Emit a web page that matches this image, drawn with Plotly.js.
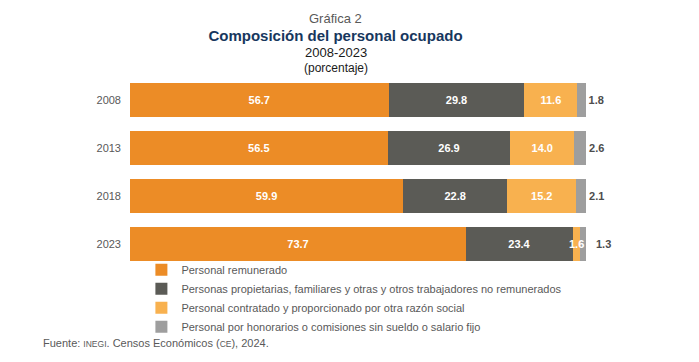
<!DOCTYPE html>
<html>
<head>
<meta charset="utf-8">
<script src="https://cdn.plot.ly/plotly-3.0.1.min.js"></script>
<style>html,body{margin:0;padding:0;background:#fff;}#chart{width:699px;height:362px;}</style>
</head>
<body>
<div id="chart"></div>
<script>
const years = ['2008', '2013', '2018', '2023'];
const seriesNames = [
  'Personal remunerado',
  'Personas propietarias, familiares y otras y otros trabajadores no remunerados',
  'Personal contratado y proporcionado por otra razón social',
  'Personal por honorarios o comisiones sin sueldo o salario fijo'
];
const remunerado = [56.7, 56.5, 59.9, 73.7];
const noRemunerado = [29.8, 26.9, 22.8, 23.4];
const contratado = [11.6, 14.0, 15.2, 1.6];
const honorarios = [1.8, 2.6, 2.1, 1.3];
const colors = ['#EC8C26', '#5B5B56', '#F8B14F', '#9E9E9E'];

const FONT = 'Liberation Sans, Arial, sans-serif';
const fmt = v => v.toFixed(1);
const allSeries = [remunerado, noRemunerado, contratado, honorarios];
const last = years.length - 1;

const traces = allSeries.map((vals, i) => {
  let pos;
  if (i < 2) pos = vals.map(() => 'inside');
  else if (i === 2) pos = vals.map((v, j) => (j === last ? 'none' : 'inside'));
  else pos = vals.map((v, j) => (j === last ? 'none' : 'outside'));
  return {
    type: 'bar',
    orientation: 'h',
    name: seriesNames[i],
    y: years,
    x: vals,
    text: vals.map(fmt),
    textposition: pos,
    insidetextanchor: 'middle',
    constraintext: 'none',
    cliponaxis: false,
    insidetextfont: {family: FONT, size: 11, color: '#ffffff', weight: 'bold'},
    outsidetextfont: {family: FONT, size: 11, color: '#4d4d4d', weight: 'bold'},
    marker: {color: colors[i], line: {width: 0}},
    width: 0.69,
    hoverinfo: 'x+name'
  };
});

// 2023 small labels (category axis annotations use the category index)
const end23 = remunerado[last] + noRemunerado[last] + contratado[last] + honorarios[last];
const annotations = [
  {
    x: remunerado[last] + noRemunerado[last] + contratado[last] / 2, y: last,
    xref: 'x', yref: 'y', text: '<b>' + fmt(contratado[last]) + '</b>', showarrow: false,
    font: {family: FONT, size: 11, color: '#ffffff'}
  },
  {
    x: end23, y: last, xref: 'x', yref: 'y', xanchor: 'left', xshift: 8,
    text: '<b>' + fmt(honorarios[last]) + '</b>', showarrow: false,
    font: {family: FONT, size: 11, color: '#4d4d4d'}
  },
  {
    x: 0.4507, y: 1.297, xref: 'paper', yref: 'paper', xanchor: 'center', yanchor: 'middle',
    text: 'Gráfica 2', showarrow: false,
    font: {family: FONT, size: 13, color: '#595959'}
  },
  {
    x: 0.4507, y: 1.120, xref: 'paper', yref: 'paper', xanchor: 'center', yanchor: 'middle',
    text: '2008-2023', showarrow: false,
    font: {family: FONT, size: 13, color: '#1a1a1a'}
  },
  {
    x: 0.4507, y: 1.042, xref: 'paper', yref: 'paper', xanchor: 'center', yanchor: 'middle',
    text: '(porcentaje)', showarrow: false,
    font: {family: FONT, size: 12, color: '#1a1a1a'}
  },
  {
    x: -0.195, y: -0.391, xref: 'paper', yref: 'paper', xanchor: 'left', yanchor: 'middle', showarrow: false,
    text: 'Fuente: <span style="font-size:8.5px">INEGI</span>. Censos Económicos (<span style="font-size:8.5px">CE</span>), 2024.',
    font: {family: FONT, size: 11, color: '#595959'}
  }
];

const layout = {
  width: 699,
  height: 362,
  margin: {l: 130, r: 113, t: 76, b: 94, pad: 0, autoexpand: false},
  paper_bgcolor: '#ffffff',
  plot_bgcolor: '#ffffff',
  barmode: 'stack',
  font: {family: FONT, size: 11, color: '#595959'},
  title: {
    text: '<b>Composición del personal ocupado</b>',
    x: 335.5 / 699, xref: 'container', xanchor: 'center',
    y: 1 - 36 / 362, yref: 'container', yanchor: 'middle',
    font: {family: FONT, size: 15, color: '#17375E'}
  },
  xaxis: {range: [0, 100], visible: false, fixedrange: true},
  yaxis: {
    type: 'category', categoryorder: 'array', categoryarray: years,
    range: [3.5, -0.5], autorange: false,
    showgrid: false, zeroline: false, showline: false,
    ticks: '', ticklabelstandoff: 8,
    tickfont: {family: FONT, size: 11, color: '#595959'}
  },
  showlegend: true,
  legend: {
    orientation: 'v', traceorder: 'normal',
    x: 0.025, xanchor: 'left', y: 0.066, yanchor: 'top',
    bgcolor: 'rgba(0,0,0,0)', itemwidth: 30, tracegroupgap: 0,
    font: {family: FONT, size: 11, color: '#595959'}
  },
  annotations: annotations
};

Plotly.newPlot('chart', traces, layout, {displayModeBar: false, staticPlot: true});
</script>
</body>
</html>
